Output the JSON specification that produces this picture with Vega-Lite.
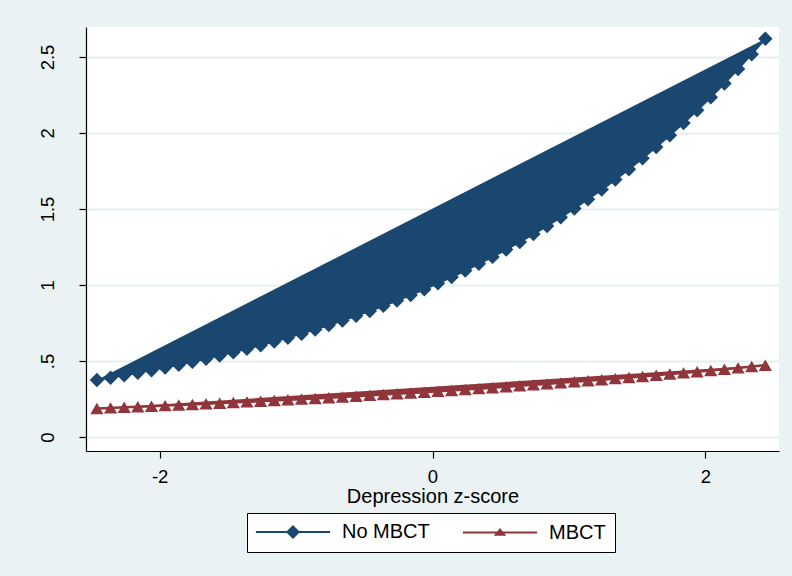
{
  "$schema": "https://vega.github.io/schema/vega-lite/v6.json",
  "width": 693,
  "height": 424,
  "autosize": {"type": "none"},
  "padding": {"left": 86, "top": 27, "right": 13, "bottom": 125},
  "background": "#EAF2F3",
  "config": {
    "font": "Liberation Sans",
    "view": {"fill": "white", "stroke": null}
  },
  "datasets": {
    "pred": [
      {"group": "No MBCT", "z": -2.46, "p": 0.3750},
      {"group": "No MBCT", "z": -2.36, "p": 0.3902},
      {"group": "No MBCT", "z": -2.26, "p": 0.4060},
      {"group": "No MBCT", "z": -2.16, "p": 0.4224},
      {"group": "No MBCT", "z": -2.06, "p": 0.4395},
      {"group": "No MBCT", "z": -1.96, "p": 0.4573},
      {"group": "No MBCT", "z": -1.86, "p": 0.4758},
      {"group": "No MBCT", "z": -1.76, "p": 0.4950},
      {"group": "No MBCT", "z": -1.66, "p": 0.5151},
      {"group": "No MBCT", "z": -1.56, "p": 0.5359},
      {"group": "No MBCT", "z": -1.46, "p": 0.5576},
      {"group": "No MBCT", "z": -1.36, "p": 0.5802},
      {"group": "No MBCT", "z": -1.26, "p": 0.6037},
      {"group": "No MBCT", "z": -1.16, "p": 0.6281},
      {"group": "No MBCT", "z": -1.06, "p": 0.6535},
      {"group": "No MBCT", "z": -0.96, "p": 0.6800},
      {"group": "No MBCT", "z": -0.86, "p": 0.7075},
      {"group": "No MBCT", "z": -0.76, "p": 0.7361},
      {"group": "No MBCT", "z": -0.66, "p": 0.7659},
      {"group": "No MBCT", "z": -0.56, "p": 0.7969},
      {"group": "No MBCT", "z": -0.46, "p": 0.8291},
      {"group": "No MBCT", "z": -0.36, "p": 0.8627},
      {"group": "No MBCT", "z": -0.26, "p": 0.8976},
      {"group": "No MBCT", "z": -0.16, "p": 0.9339},
      {"group": "No MBCT", "z": -0.06, "p": 0.9717},
      {"group": "No MBCT", "z": 0.04, "p": 1.0111},
      {"group": "No MBCT", "z": 0.14, "p": 1.0520},
      {"group": "No MBCT", "z": 0.24, "p": 1.0946},
      {"group": "No MBCT", "z": 0.34, "p": 1.1389},
      {"group": "No MBCT", "z": 0.44, "p": 1.1849},
      {"group": "No MBCT", "z": 0.54, "p": 1.2329},
      {"group": "No MBCT", "z": 0.64, "p": 1.2828},
      {"group": "No MBCT", "z": 0.74, "p": 1.3347},
      {"group": "No MBCT", "z": 0.84, "p": 1.3887},
      {"group": "No MBCT", "z": 0.94, "p": 1.4449},
      {"group": "No MBCT", "z": 1.04, "p": 1.5034},
      {"group": "No MBCT", "z": 1.14, "p": 1.5643},
      {"group": "No MBCT", "z": 1.24, "p": 1.6276},
      {"group": "No MBCT", "z": 1.34, "p": 1.6934},
      {"group": "No MBCT", "z": 1.44, "p": 1.7620},
      {"group": "No MBCT", "z": 1.54, "p": 1.8333},
      {"group": "No MBCT", "z": 1.64, "p": 1.9075},
      {"group": "No MBCT", "z": 1.74, "p": 1.9847},
      {"group": "No MBCT", "z": 1.84, "p": 2.0650},
      {"group": "No MBCT", "z": 1.94, "p": 2.1486},
      {"group": "No MBCT", "z": 2.04, "p": 2.2355},
      {"group": "No MBCT", "z": 2.14, "p": 2.3260},
      {"group": "No MBCT", "z": 2.24, "p": 2.4201},
      {"group": "No MBCT", "z": 2.34, "p": 2.5181},
      {"group": "No MBCT", "z": 2.44, "p": 2.6200},
      {"group": "MBCT", "z": -2.46, "p": 0.1880},
      {"group": "MBCT", "z": -2.36, "p": 0.1916},
      {"group": "MBCT", "z": -2.26, "p": 0.1952},
      {"group": "MBCT", "z": -2.16, "p": 0.1989},
      {"group": "MBCT", "z": -2.06, "p": 0.2027},
      {"group": "MBCT", "z": -1.96, "p": 0.2065},
      {"group": "MBCT", "z": -1.86, "p": 0.2104},
      {"group": "MBCT", "z": -1.76, "p": 0.2144},
      {"group": "MBCT", "z": -1.66, "p": 0.2185},
      {"group": "MBCT", "z": -1.56, "p": 0.2226},
      {"group": "MBCT", "z": -1.46, "p": 0.2269},
      {"group": "MBCT", "z": -1.36, "p": 0.2312},
      {"group": "MBCT", "z": -1.26, "p": 0.2356},
      {"group": "MBCT", "z": -1.16, "p": 0.2400},
      {"group": "MBCT", "z": -1.06, "p": 0.2446},
      {"group": "MBCT", "z": -0.96, "p": 0.2492},
      {"group": "MBCT", "z": -0.86, "p": 0.2539},
      {"group": "MBCT", "z": -0.76, "p": 0.2588},
      {"group": "MBCT", "z": -0.66, "p": 0.2637},
      {"group": "MBCT", "z": -0.56, "p": 0.2687},
      {"group": "MBCT", "z": -0.46, "p": 0.2738},
      {"group": "MBCT", "z": -0.36, "p": 0.2790},
      {"group": "MBCT", "z": -0.26, "p": 0.2843},
      {"group": "MBCT", "z": -0.16, "p": 0.2897},
      {"group": "MBCT", "z": -0.06, "p": 0.2951},
      {"group": "MBCT", "z": 0.04, "p": 0.3007},
      {"group": "MBCT", "z": 0.14, "p": 0.3065},
      {"group": "MBCT", "z": 0.24, "p": 0.3123},
      {"group": "MBCT", "z": 0.34, "p": 0.3182},
      {"group": "MBCT", "z": 0.44, "p": 0.3242},
      {"group": "MBCT", "z": 0.54, "p": 0.3304},
      {"group": "MBCT", "z": 0.64, "p": 0.3366},
      {"group": "MBCT", "z": 0.74, "p": 0.3430},
      {"group": "MBCT", "z": 0.84, "p": 0.3495},
      {"group": "MBCT", "z": 0.94, "p": 0.3562},
      {"group": "MBCT", "z": 1.04, "p": 0.3629},
      {"group": "MBCT", "z": 1.14, "p": 0.3698},
      {"group": "MBCT", "z": 1.24, "p": 0.3768},
      {"group": "MBCT", "z": 1.34, "p": 0.3840},
      {"group": "MBCT", "z": 1.44, "p": 0.3913},
      {"group": "MBCT", "z": 1.54, "p": 0.3987},
      {"group": "MBCT", "z": 1.64, "p": 0.4062},
      {"group": "MBCT", "z": 1.74, "p": 0.4140},
      {"group": "MBCT", "z": 1.84, "p": 0.4218},
      {"group": "MBCT", "z": 1.94, "p": 0.4298},
      {"group": "MBCT", "z": 2.04, "p": 0.4380},
      {"group": "MBCT", "z": 2.14, "p": 0.4463},
      {"group": "MBCT", "z": 2.24, "p": 0.4547},
      {"group": "MBCT", "z": 2.34, "p": 0.4634},
      {"group": "MBCT", "z": 2.44, "p": 0.4722}
    ]
  },
  "data": {"name": "pred"},
  "encoding": {
    "x": {
      "field": "z",
      "type": "quantitative",
      "scale": {"domain": [-2.54, 2.54], "nice": false, "zero": false},
      "axis": {
        "title": "Depression z-score",
        "values": [-2, 0, 2],
        "labelExpr": "toString(datum.value)",
        "grid": false,
        "domainColor": "black",
        "domainWidth": 1.2,
        "tickColor": "black",
        "tickWidth": 1.2,
        "tickSize": 7,
        "labelFontSize": 18.5,
        "labelColor": "black",
        "labelPadding": 9,
        "titleFontSize": 20,
        "titleFontWeight": "normal",
        "titleColor": "black",
        "titlePadding": 1
      }
    },
    "y": {
      "field": "p",
      "type": "quantitative",
      "scale": {"domain": [-0.092, 2.697], "nice": false, "zero": false},
      "axis": {
        "title": null,
        "values": [0, 0.5, 1, 1.5, 2, 2.5],
        "labelExpr": "datum.value === 0.5 ? '.5' : toString(datum.value)",
        "grid": true,
        "gridColor": "#E6EEF0",
        "gridWidth": 2,
        "domainColor": "black",
        "domainWidth": 1.2,
        "tickColor": "black",
        "tickWidth": 1.2,
        "tickSize": 7,
        "labelAngle": 270,
        "labelAlign": "center",
        "labelBaseline": "bottom",
        "labelPadding": 22,
        "labelFontSize": 18.5,
        "labelColor": "black"
      }
    }
  },
  "layer": [
    {
      "transform": [{"filter": "datum.group === 'No MBCT'"}],
      "mark": {"type": "line", "strokeWidth": 2, "color": "#1A476F", "fill": "#1A476F", "fillOpacity": 1}
    },
    {
      "transform": [{"filter": "datum.group === 'MBCT'"}],
      "mark": {"type": "line", "strokeWidth": 2.5, "color": "#90353B", "fill": "#90353B", "fillOpacity": 1}
    },
    {
      "transform": [{"filter": "datum.group === 'No MBCT'"}],
      "mark": {"type": "point", "filled": true, "opacity": 1, "shape": "diamond", "color": "#1A476F", "size": 210}
    },
    {
      "transform": [{"filter": "datum.group === 'MBCT'"}],
      "mark": {"type": "point", "filled": true, "opacity": 1, "shape": "triangle-up", "color": "#90353B", "size": 175}
    },
    {
      "transform": [{"filter": "datum.z === -2.46"}],
      "mark": {"type": "point", "filled": true, "opacity": 0, "size": 196},
      "encoding": {
        "color": {
          "field": "group",
          "type": "nominal",
          "scale": {"domain": ["No MBCT", "MBCT"], "range": ["#1A476F", "#90353B"]},
          "legend": {
            "orient": "none",
            "legendX": 161,
            "legendY": 486,
            "direction": "horizontal",
            "title": null,
            "strokeColor": "black",
            "fillColor": "white",
            "padding": 9,
            "symbolSize": 196,
            "symbolOpacity": 1,
            "symbolStrokeWidth": 2,
            "symbolOffset": 27,
            "labelOffset": 39,
            "columnPadding": 28,
            "labelFontSize": 20,
            "labelColor": "black",
            "labelLimit": 300
          }
        },
        "shape": {
          "field": "group",
          "type": "nominal",
          "scale": {
            "domain": ["No MBCT", "MBCT"],
            "range": [
              "M-5.3,-0.14H5.3V0.14H-5.3ZM0,-1L1,0L0,1L-1,0Z",
              "M-5.3,-0.14H5.3V0.14H-5.3ZM0,-0.65L0.9,0.47L-0.9,0.47Z"
            ]
          },
          "legend": {
            "orient": "none",
            "legendX": 161,
            "legendY": 486,
            "direction": "horizontal",
            "title": null,
            "strokeColor": "black",
            "fillColor": "white",
            "padding": 9,
            "symbolSize": 196,
            "symbolOpacity": 1,
            "symbolStrokeWidth": 2,
            "symbolOffset": 27,
            "labelOffset": 39,
            "columnPadding": 28,
            "labelFontSize": 20,
            "labelColor": "black",
            "labelLimit": 300
          }
        }
      }
    }
  ]
}
